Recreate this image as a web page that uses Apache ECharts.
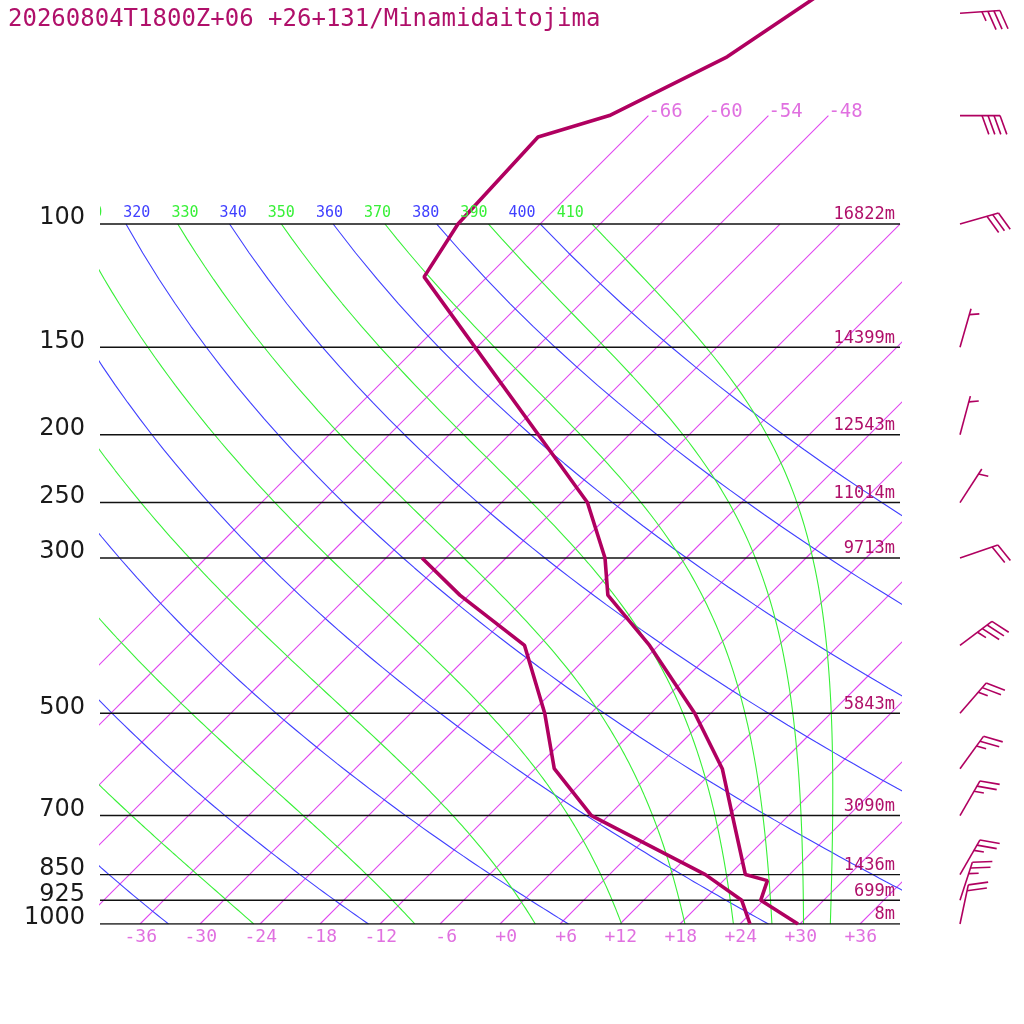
<!DOCTYPE html>
<html><head><meta charset="utf-8">
<script src="https://cdn.jsdelivr.net/npm/echarts@6/dist/echarts.min.js"></script>
<style>html,body{margin:0;padding:0;background:#fff}#c{width:1024px;height:1024px}</style>
</head><body><div id="c"></div>
<script>
// ---------------- data ----------------
const titleText = '20260804T1800Z+06 +26+131/Minamidaitojima';
const isobarLevels = [100, 150, 200, 250, 300, 500, 700, 850, 925, 1000];
const isobarHeights = ['16822m', '14399m', '12543m', '11014m', '9713m', '5843m', '3090m', '1436m', '699m', '8m'];
const isotherms = [-66, -60, -54, -48, -42, -36, -30, -24, -18, -12, -6, 0, 6, 12, 18, 24, 30, 36];
const isothermTopLabels = [-66, -60, -54, -48];
const isothermBottomLabels = ['-36', '-30', '-24', '-18', '-12', '-6', '+0', '+6', '+12', '+18', '+24', '+30', '+36'];
const isothermBottomValues = [-36, -30, -24, -18, -12, -6, 0, 6, 12, 18, 24, 30, 36];
const dryThetas = [240, 260, 280, 300, 320, 340, 360, 380, 400];
const moistThetas = [250, 270, 290, 310, 330, 350, 370, 390, 410];
const thetaLabels = [310, 320, 330, 340, 350, 360, 370, 380, 390, 400, 410];
const tempP = [40, 57.7, 70, 75.1, 100, 119, 250, 300, 339, 400, 500, 600, 700, 850, 867, 925, 1000];
const tempT = [-58.6, -64.0, -69.9, -74.9, -74.2, -72.3, -33.4, -26.1, -22.1, -12.9, -1.6, 6.7, 12.4, 19.6, 22.4, 23.7, 29.8];
const dewP = [300, 339, 400, 500, 600, 700, 850, 925, 1000];
const dewT = [-44.4, -36.9, -25.4, -16.6, -10.1, -1.7, 15.6, 21.8, 25.0];
const windP = [50, 70, 100, 150, 200, 250, 300, 400, 500, 600, 700, 850, 925, 1000];
const windDir = [86, 90, 74, 16, 15, 33, 71, 53, 41, 36, 30, 30, 18, 12];
const windSpd = [35, 40, 30, 5, 5, 5, 20, 35, 25, 25, 25, 25, 25, 20];

// ---------------- styling / geometry constants ----------------
const SKEW = 30.4;          // deg C of skew per unit ln(p)
const KAPPA = 0.2857;
const PTOP = 1000 * Math.exp(-924 / 304);
const ISO_TOP_P = 70;
const COL_PROFILE = '#b00060';
const COL_TEXT = '#b0106a';
const COL_ISO = '#e048f0';
const COL_ISO_TXT = '#e070e0';
const COL_DRY = '#4040ff';
const COL_MOIST = '#38f038';
const MONO = '"DejaVu Sans Mono", monospace';

function X(T, p) { return T + SKEW * Math.log(1000 / p); }

function lapse(p, T) { // dT/dp (K/hPa) pseudo-adiabatic
  const Tc = T - 273.15;
  const es = 6.112 * Math.exp(17.67 * Tc / (Tc + 243.5));
  const rs = 0.622 * es / (p - es);
  const Lv = 2.501e6, Rd = 287.04, cp = 1005.7, eps = 0.622;
  return ((Rd * T + Lv * rs) / p) / (cp + (Lv * Lv * rs * eps) / (Rd * T * T));
}

const series = [];
function lineSeries(data, color, width, z) {
  return { type: 'line', showSymbol: false, symbol: 'none', silent: true, animation: false, clip: true,
    z: z, data: data, color: color, itemStyle: { color: color },
    lineStyle: { color: color, width: width, opacity: 1 } };
}

// isotherms
isotherms.forEach(t => {
  const top = isothermTopLabels.indexOf(t) >= 0 ? ISO_TOP_P : 100;
  const d = [];
  for (let p = 1000; p > top; p -= 50) d.push([X(t, p), p]);
  d.push([X(t, top), top]);
  series.push(lineSeries(d, COL_ISO, 1.1, 2));
});
// dry adiabats
dryThetas.forEach(th => {
  const d = [];
  for (let p = 1000; p >= 100; p -= 10) d.push([X(th * Math.pow(p / 1000, KAPPA) - 273.15, p), p]);
  series.push(lineSeries(d, COL_DRY, 1.1, 2));
});
// moist adiabats (start at 100 hPa on the labelled theta, integrate downward)
moistThetas.forEach(th => {
  let p = 100, T = th * Math.pow(p / 1000, KAPPA);
  const d = [[X(T - 273.15, p), p]];
  const dp = 0.5;
  let step = 0;
  while (p < 1000 - 1e-9) {
    const k1 = lapse(p, T);
    const k2 = lapse(p + dp / 2, T + k1 * dp / 2);
    const k3 = lapse(p + dp / 2, T + k2 * dp / 2);
    const k4 = lapse(p + dp, T + k3 * dp);
    T += dp * (k1 + 2 * k2 + 2 * k3 + k4) / 6;
    p += dp; step++;
    if (step % 10 === 0) d.push([X(T - 273.15, p), p]);
  }
  series.push(lineSeries(d, COL_MOIST, 1.1, 2));
});
// isobars
isobarLevels.forEach(p => {
  series.push(lineSeries([[-40, p], [40, p]], '#111111', 1.4, 3));
});
// profiles
series.push(lineSeries(tempP.map((p, i) => [X(tempT[i], p), p]), COL_PROFILE, 3.6, 5));
series.push(lineSeries(dewP.map((p, i) => [X(dewT[i], p), p]), COL_PROFILE, 3.6, 5));

function txt(x, y, text, font, fill, align, valign) {
  return { type: 'text', x: x, y: y, style: { text: text, font: font, fill: fill,
    align: align, textAlign: align, verticalAlign: valign, textVerticalAlign: valign } };
}

// pressure labels (left) and height labels (right)
series.push({ type: 'custom', silent: true, animation: false, clip: false, z: 6,
  data: isobarLevels.map(p => [40, p]),
  renderItem: function (params, api) {
    const i = params.dataIndex, p = isobarLevels[i];
    const left = api.coord([-40, p]), right = api.coord([40, p]);
    return { type: 'group', children: [
      txt(left[0] - 15, left[1] - 6, String(p), '24px "DejaVu Sans", sans-serif', '#1a1a1a', 'right', 'middle'),
      txt(right[0] - 5, right[1] - 9, isobarHeights[i], '17px ' + MONO, COL_TEXT, 'right', 'middle')
    ] };
  } });
// isotherm labels bottom
series.push({ type: 'custom', silent: true, animation: false, clip: false, z: 6,
  data: isothermBottomValues.map(t => [t, 1000]),
  renderItem: function (params, api) {
    const i = params.dataIndex;
    const c = api.coord([isothermBottomValues[i], 1000]);
    return txt(c[0] + 17, c[1] + 13, isothermBottomLabels[i], '18px ' + MONO, COL_ISO_TXT, 'right', 'middle');
  } });
// isotherm labels top
series.push({ type: 'custom', silent: true, animation: false, clip: false, z: 6,
  data: isothermTopLabels.map(t => [X(t, ISO_TOP_P), ISO_TOP_P]),
  renderItem: function (params, api) {
    const t = isothermTopLabels[params.dataIndex];
    const c = api.coord([X(t, ISO_TOP_P), ISO_TOP_P]);
    return txt(c[0], c[1] - 4, String(t), '19px ' + MONO, COL_ISO_TXT, 'left', 'middle');
  } });
// theta labels along 100 hPa
series.push({ type: 'custom', silent: true, animation: false, clip: true, z: 6,
  data: thetaLabels.map(th => [X(th * Math.pow(0.1, KAPPA) - 273.15, 100), 100]),
  renderItem: function (params, api) {
    const th = thetaLabels[params.dataIndex];
    const c = api.coord([-40, 100]);
    const x = c[0] + 23.3 + 4.815 * (th - 320);
    const col = dryThetas.indexOf(th) >= 0 ? COL_DRY : COL_MOIST;
    return txt(x, c[1] - 11, String(th), '15px ' + MONO, col, 'left', 'middle');
  } });
// wind barbs
series.push({ type: 'custom', silent: true, animation: false, clip: false, z: 6,
  data: windP.map(p => [40, p]),
  renderItem: function (params, api) {
    const i = params.dataIndex;
    const c = api.coord([40, windP[i]]);
    const bx = c[0] + 60, by = c[1];
    const a = windDir[i] * Math.PI / 180;
    const ux = Math.sin(a), uy = -Math.cos(a);
    const L = 40, sp = 6, FL = 20;
    const rot = 70 * Math.PI / 180;
    const ang = Math.atan2(uy, ux) + rot;
    const bxv = Math.cos(ang), byv = Math.sin(ang);
    const tx = bx + L * ux, ty = by + L * uy;
    const st = { stroke: COL_PROFILE, lineWidth: 1.6 };
    const ch = [{ type: 'line', shape: { x1: bx, y1: by, x2: tx, y2: ty }, style: st }];
    let s = Math.round(windSpd[i] / 5) * 5;
    let k = 0;
    while (s >= 50) {
      const px = tx - k * sp * ux, py = ty - k * sp * uy;
      const qx = px - sp * ux, qy = py - sp * uy;
      ch.push({ type: 'polygon', shape: { points: [[px, py], [px + FL * bxv, py + FL * byv], [qx, qy]] }, style: { fill: COL_PROFILE } });
      k += 1.5; s -= 50;
    }
    while (s >= 10) {
      const px = tx - k * sp * ux, py = ty - k * sp * uy;
      ch.push({ type: 'line', shape: { x1: px, y1: py, x2: px + FL * bxv, y2: py + FL * byv }, style: st });
      k++; s -= 10;
    }
    if (s >= 5) {
      if (k === 0) k = 1;
      const px = tx - k * sp * ux, py = ty - k * sp * uy;
      ch.push({ type: 'line', shape: { x1: px, y1: py, x2: px + FL / 2 * bxv, y2: py + FL / 2 * byv }, style: st });
    }
    return { type: 'group', children: ch };
  } });

const chart = echarts.init(document.getElementById('c'), null, { renderer: 'canvas' });
chart.setOption({
  animation: false,
  backgroundColor: '#fff',
  title: { text: titleText, left: 3, top: 3,
    textStyle: { fontFamily: MONO, fontSize: 24, fontWeight: 'normal', color: COL_TEXT } },
  grid: { left: 100, right: 124, top: 0, bottom: 100 },
  xAxis: { type: 'value', min: -40, max: 40, show: false },
  yAxis: { type: 'log', logBase: 10, inverse: true, min: PTOP, max: 1000, show: false },
  series: series
});
</script>
</body></html>
